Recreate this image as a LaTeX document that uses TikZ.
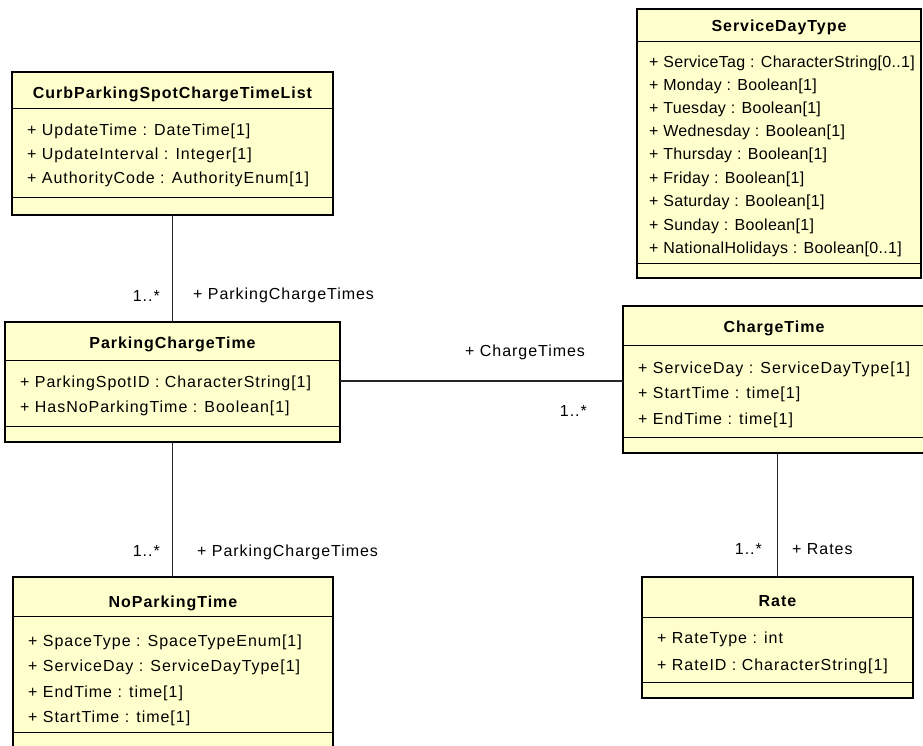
\documentclass[tikz,border=0pt]{standalone}
\usepackage{fontspec}
\setmainfont{Liberation Sans}[LetterSpace=6]
\definecolor{classfill}{RGB}{255,255,206}
\tikzset{
  classbox/.style={rectangle,draw=black,line width=2.2pt,fill=classfill,anchor=north west,inner sep=0pt,outer sep=0pt},
  compline/.style={draw=black,line width=1pt},
  classname/.style={font=\fontsize{16}{19}\selectfont\bfseries,anchor=base,inner sep=0pt},
  attr/.style={font=\fontsize{16}{19}\selectfont,anchor=base west,inner sep=0pt},
  tightattr/.style={attr,font=\fontsize{16}{19}\selectfont\addfontfeature{LetterSpace=2}},
  role/.style={font=\fontsize{16}{19}\selectfont,anchor=base west,inner sep=0pt},
  mult/.style={font=\fontsize{16}{19}\selectfont,anchor=base east,inner sep=0pt},
  assoc/.style={draw=black!85,line width=1.3pt}
}
\begin{document}
\begin{tikzpicture}[x=1pt,y=-1pt]
\useasboundingbox[fill=white] (0,0) rectangle (923,746);

% CurbParkingSpotChargeTimeList
\begin{scope}[shift={(12,72)}]
\node[classbox,minimum width=321pt,minimum height=143pt] (curb) at (0,0) {};
\draw[compline] (0,37) -- (321,37);
\draw[compline] (0,126) -- (321,126);
\node[classname] (curbname) at (160.5,27) {CurbParkingSpotChargeTimeList};
\node[attr] (curba1) at (15,64)  {+ UpdateTime : DateTime[1]};
\node[attr] (curba2) at (15,88)  {+ UpdateInterval : Integer[1]};
\node[attr] (curba3) at (15,112) {+ AuthorityCode : AuthorityEnum[1]};
\end{scope}

% ServiceDayType
\begin{scope}[shift={(637,9)}]
\node[classbox,minimum width=284pt,minimum height=269pt] (sdt) at (0,0) {};
\draw[compline] (0,33) -- (284,33);
\draw[compline] (0,254) -- (284,254);
\node[classname] (sdtname) at (142,23) {ServiceDayType};
\node[tightattr] (sdta1) at (12,59)  {+ ServiceTag : CharacterString[0..1]};
\node[tightattr] (sdta2) at (12,82)  {+ Monday : Boolean[1]};
\node[tightattr] (sdta3) at (12,105) {+ Tuesday : Boolean[1]};
\node[tightattr] (sdta4) at (12,128) {+ Wednesday : Boolean[1]};
\node[tightattr] (sdta5) at (12,151) {+ Thursday : Boolean[1]};
\node[tightattr] (sdta6) at (12,175) {+ Friday : Boolean[1]};
\node[tightattr] (sdta7) at (12,198) {+ Saturday : Boolean[1]};
\node[tightattr] (sdta8) at (12,221) {+ Sunday : Boolean[1]};
\node[tightattr] (sdta9) at (12,244) {+ NationalHolidays : Boolean[0..1]};
\end{scope}

% ParkingChargeTime
\begin{scope}[shift={(5,322)}]
\node[classbox,minimum width=335pt,minimum height=120pt] (pct) at (0,0) {};
\draw[compline] (0,38) -- (335,38);
\draw[compline] (0,104) -- (335,104);
\node[classname] (pctname) at (167.5,26) {ParkingChargeTime};
\node[attr] (pcta1) at (15,65) {+ ParkingSpotID : CharacterString[1]};
\node[attr] (pcta2) at (15,90) {+ HasNoParkingTime : Boolean[1]};
\end{scope}

% ChargeTime
\begin{scope}[shift={(623,306)}]
\node[classbox,minimum width=302pt,minimum height=147pt] (ct) at (0,0) {};
\draw[compline] (0,39) -- (302,39);
\draw[compline] (0,131) -- (302,131);
\node[classname] (ctname) at (151,26) {ChargeTime};
\node[attr] (cta1) at (15,67)  {+ ServiceDay : ServiceDayType[1]};
\node[attr] (cta2) at (15,92)  {+ StartTime : time[1]};
\node[attr] (cta3) at (15,118) {+ EndTime : time[1]};
\end{scope}

% NoParkingTime
\begin{scope}[shift={(13,577)}]
\node[classbox,minimum width=320pt,minimum height=190pt] (npt) at (0,0) {};
\draw[compline] (0,39) -- (320,39);
\draw[compline] (0,155) -- (320,155);
\node[classname] (nptname) at (160,30) {NoParkingTime};
\node[attr] (npta1) at (15,69)  {+ SpaceType : SpaceTypeEnum[1]};
\node[attr] (npta2) at (15,94)  {+ ServiceDay : ServiceDayType[1]};
\node[attr] (npta3) at (15,120) {+ EndTime : time[1]};
\node[attr] (npta4) at (15,145) {+ StartTime : time[1]};
\end{scope}

% Rate
\begin{scope}[shift={(642,577)}]
\node[classbox,minimum width=271pt,minimum height=121pt] (rate) at (0,0) {};
\draw[compline] (0,40) -- (271,40);
\draw[compline] (0,105) -- (271,105);
\node[classname] (ratename) at (135.5,29) {Rate};
\node[attr] (ratea1) at (15,66) {+ RateType : int};
\node[attr] (ratea2) at (15,93) {+ RateID : CharacterString[1]};
\end{scope}

% associations
\draw[assoc] (curb.south) -- (pct.north);
\draw[assoc] (pct.south) -- (pct.south |- npt.north);
\draw[assoc] ([yshift=-59pt]pct.north east) coordinate (pcttie) -- (pcttie -| ct.west);
\draw[assoc] (rate.north |- ct.south) -- (rate.north);

\node[mult] (curbmult) at (160,301) {1..*};
\node[role] (curbrole) at (193,299) {+ ParkingChargeTimes};
\node[role] (ctrole)   at (465,356) {+ ChargeTimes};
\node[mult] (ctmult)   at (587,416) {1..*};
\node[mult] (nptmult)  at (160,556) {1..*};
\node[role] (nptrole)  at (197,556) {+ ParkingChargeTimes};
\node[mult] (ratemult) at (762,554) {1..*};
\node[role] (raterole) at (792,554) {+ Rates};
\end{tikzpicture}
\end{document}
